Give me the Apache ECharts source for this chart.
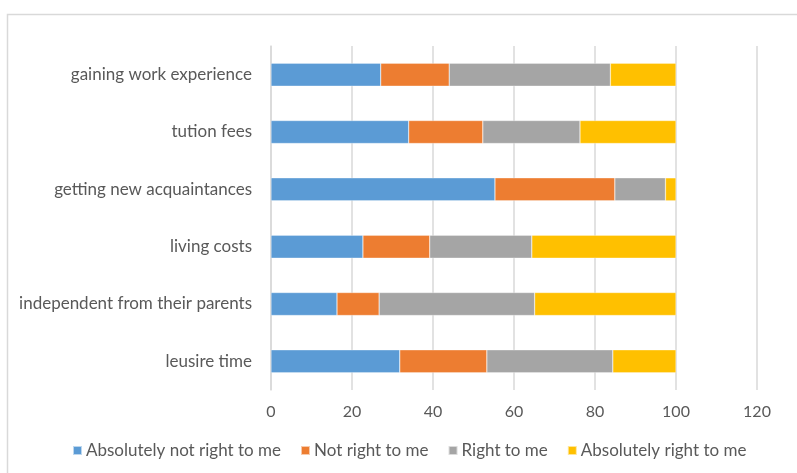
<!DOCTYPE html>
<html>
<head>
<meta charset="utf-8">
<script src="https://cdn.jsdelivr.net/npm/echarts@6/dist/echarts.min.js"></script>
<style>html,body{margin:0;padding:0;background:#fff;}#c{width:797px;height:473px;}</style>
</head>
<body>
<div id="c"></div>
<script>
const categories = ["leusire time", "independent from their parents", "living costs", "getting new acquaintances", "tution fees", "gaining work experience"];
const absNotRight = [31.8, 16.3, 22.7, 55.3, 34.0, 27.1];
const notRight = [21.5, 10.4, 16.5, 29.6, 18.3, 16.9];
const right = [31.1, 38.4, 25.2, 12.5, 24.0, 39.8];
const absRight = [15.6, 34.9, 35.6, 2.6, 23.7, 16.2];
const seriesNames = ["Absolutely not right to me", "Not right to me", "Right to me", "Absolutely right to me"];
const xTicks = [0, 20, 40, 60, 80, 100, 120];

const colors = ["#5B9BD5", "#ED7D31", "#A5A5A5", "#FFC000"];
const font = "Lato";
const chart = echarts.init(document.getElementById('c'), null, {renderer: 'canvas'});
const dataSets = [absNotRight, notRight, right, absRight];
chart.setOption({
  animation: false,
  color: colors,
  graphic: [{
    type: 'rect', left: 5, top: 12, shape: {width: 820, height: 480},
    style: {fill: 'none', stroke: '#d9d9d9', lineWidth: 1.5}, silent: true
  }],
  grid: {left: 271, right: 40, top: 46, bottom: 83, containLabel: false},
  legend: {
    left: 67, top: 437, itemWidth: 9, itemHeight: 9, itemGap: 19,
    icon: 'rect',
    textStyle: {fontFamily: font, fontSize: 17, color: '#595959', padding: [0, 0, 0, -1]},
    data: seriesNames
  },
  xAxis: {
    type: 'value', min: xTicks[0], max: xTicks[xTicks.length - 1], interval: 20,
    axisLine: {show: false}, axisTick: {show: false},
    splitLine: {lineStyle: {color: '#d9d9d9', width: 1.5}},
    axisLabel: {fontFamily: font, fontSize: 16, color: '#595959', margin: 14}
  },
  yAxis: {
    type: 'category', data: categories,
    axisLine: {lineStyle: {color: '#d9d9d9', width: 1.5}}, axisTick: {show: false},
    axisLabel: {fontFamily: font, fontSize: 17, color: '#595959', margin: 19}
  },
  series: seriesNames.map((n, i) => ({
    name: n, type: 'bar', stack: 'total', data: dataSets[i],
    barWidth: 23,
    itemStyle: {borderColor: 'rgba(255,255,255,0.6)', borderWidth: 0.5}
  }))
});
</script>
</body>
</html>
